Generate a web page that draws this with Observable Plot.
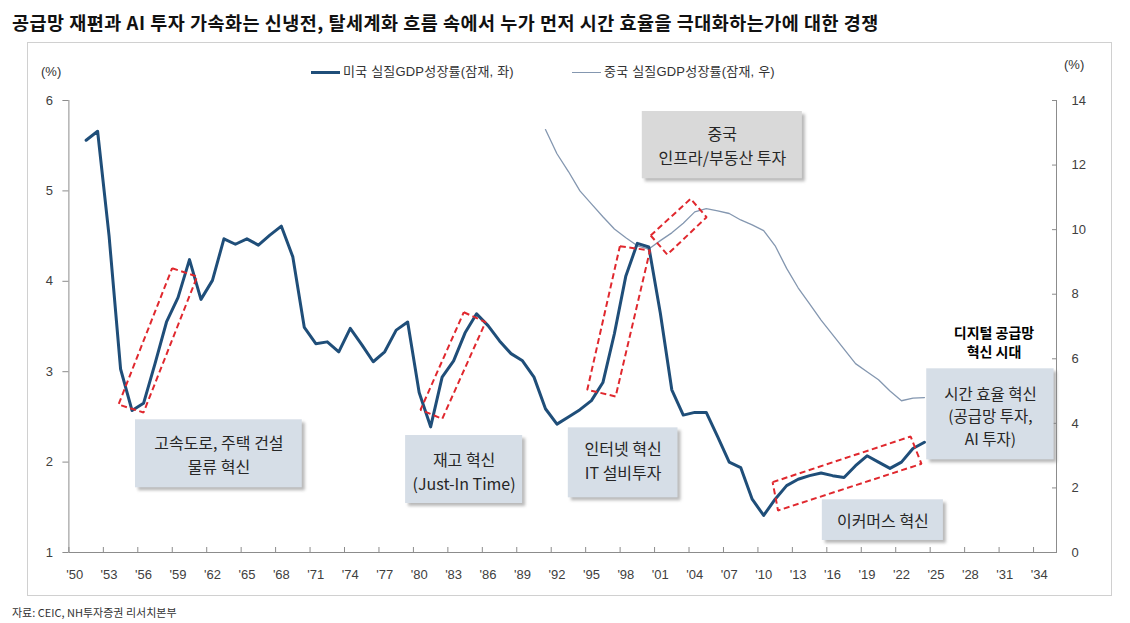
<!DOCTYPE html>
<html><head><meta charset="utf-8">
<script src="https://cdn.jsdelivr.net/npm/d3@7"></script>
<script src="https://cdn.jsdelivr.net/npm/@observablehq/plot@0.6"></script>
<style>
body{margin:0;width:1130px;height:623px;background:#fff;position:relative;overflow:hidden;font-family:"Noto Sans CJK KR",sans-serif;}
#title{position:absolute;left:12px;top:8px;font-size:18.5px;letter-spacing:0.5px;line-height:28px;font-weight:700;color:#111;white-space:nowrap;}
#frame{position:absolute;left:27px;top:42px;width:1085px;height:554px;border:1px solid #d0d0d0;box-sizing:border-box;}
.lbl{position:absolute;font-family:"Liberation Sans","Noto Sans CJK KR",sans-serif;font-size:13px;line-height:18px;color:#333;white-space:nowrap;}
.swatch{position:absolute;}
#chart{position:absolute;left:0;top:85px;}
#src{position:absolute;left:12px;top:604px;font-size:11px;line-height:16px;color:#333;white-space:nowrap;}
</style></head>
<body>
<div id="title">공급망 재편과 AI 투자 가속화는 신냉전, 탈세계화 흐름 속에서 누가 먼저 시간 효율을 극대화하는가에 대한 경쟁</div>
<div id="frame"></div>
<div class="lbl" style="left:41px;top:63px;">(%)</div>
<div class="lbl" style="left:1064px;top:56px;">(%)</div>
<div class="swatch" style="left:311px;top:70.5px;width:29px;height:3px;background:#1f4e79;"></div>
<div class="lbl" style="left:343px;top:63px;letter-spacing:0.2px;">미국 실질GDP성장률(잠재, 좌)</div>
<div class="swatch" style="left:572px;top:71.5px;width:29px;height:1.3px;background:#8497b0;"></div>
<div class="lbl" style="left:604px;top:63px;letter-spacing:0.2px;">중국 실질GDP성장률(잠재, 우)</div>
<div id="chart"></div>
<div id="src">자료: CEIC, NH투자증권 리서치본부</div>
<script>
// ---- data ----
const usYears = d3.range(1951, 2025);
const usGrowth = [5.56,5.66,4.50,3.03,2.57,2.65,3.09,3.55,3.82,4.24,
  3.80,4.01,4.47,4.41,4.47,4.40,4.51,4.61,4.27,3.49,
  3.31,3.33,3.22,3.48,3.30,3.11,3.22,3.46,3.55,2.77,
  2.39,2.94,3.12,3.43,3.64,3.51,3.34,3.20,3.12,2.94,
  2.59,2.42,2.50,2.58,2.68,2.88,3.42,4.06,4.42,4.38,
  3.65,2.80,2.52,2.55,2.55,2.28,2.00,1.94,1.59,1.41,
  1.59,1.74,1.81,1.85,1.88,1.85,1.83,1.96,2.07,2.00,
  1.93,2.00,2.15,2.22];
const cnYears = d3.range(1991, 2025);
const cnGrowth = [13.1,12.35,11.8,11.2,10.8,10.4,10.02,9.75,9.5,9.4,
  9.66,9.9,10.2,10.55,10.65,10.58,10.5,10.3,10.15,9.97,
  9.5,8.8,8.2,7.7,7.2,6.75,6.3,5.85,5.6,5.35,
  5.0,4.7,4.78,4.8];
const leftTicks = [1,2,3,4,5,6];
const rightTicks = [0,2,4,6,8,10,12,14];
const labelYears = d3.range(1950, 2035, 3);
const tickYears = d3.range(1949.5, 2034, 3);

// annotation boxes (year range, left-axis value range)
const noteText = ["고속도로, 주택 건설\n물류 혁신","재고 혁신\n(Just-In Time)","인터넷 혁신\nIT 설비투자","중국\n인프라/부동산 투자","이커머스 혁신","시간 효율 혁신\n(공급망 투자,\nAI 투자)"];
const noteX1 = [1955.30,1978.82,1992.99,1999.43,2015.11,2024.20];
const noteX2 = [1969.82,1989.01,2002.54,2013.37,2025.65,2035.29];
const noteY1 = [1.716,1.542,1.605,5.134,1.133,2.025];
const noteY2 = [2.468,2.294,2.379,5.878,1.583,3.032];
const noteTY = [2.095,1.913,2.03,5.513,1.365,2.521];
const noteFill = ["#d6dee7","#d6dee7","#d6dee7","#d9d9d9","#d6dee7","#d6dee7"];

const eraText = "디지털 공급망\n혁신 시대";
const eraX = 2030.06, eraY = 3.336;

// red dashed highlight boxes: corners (year, left value)
const hiBoxes = [
  [[1958.49,4.145],[1960.67,4.053],[1956.0,2.549],[1953.82,2.637]],
  [[1983.89,3.658],[1985.78,3.548],[1982.01,2.479],[1980.12,2.579]],
  [[1997.48,4.388],[2000.10,4.341],[1997.11,2.726],[1994.64,2.800]],
  [[2000.16,4.507],[2003.64,4.912],[2005.03,4.709],[2001.61,4.296]],
  [[2010.78,1.778],[2022.80,2.283],[2023.74,1.981],[2011.25,1.465]]
];

// ---- derived tables ----
const toL = v => 1 + v * 5 / 14;
const us = usYears.map((y,i)=>({year:y, value:usGrowth[i]}));
const cn = cnYears.map((y,i)=>({year:y, value:toL(cnGrowth[i])}));
const hiRows = hiBoxes.flatMap((b,i)=>[...b, b[0]].map(p=>({id:i, x:p[0], y:p[1]})));
const notes = noteText.map((t,i)=>({t, x1:noteX1[i], x2:noteX2[i], y1:noteY1[i], y2:noteY2[i], xc:(noteX1[i]+noteX2[i])/2, ty:noteTY[i], fill:noteFill[i], three:t.split("\n").length>2}));

const axisColor = "#8c8c8c";
const noteFont = '"Noto Sans CJK KR",sans-serif';
const plot = Plot.plot({
  width: 1130, height: 512,
  marginLeft: 68.4, marginRight: 74, marginTop: 15, marginBottom: 45,
  x: {domain:[1949.5, 2035.5], axis:null},
  y: {domain:[1,6], axis:null},
  style: {fontFamily:'"Liberation Sans","Noto Sans CJK KR",sans-serif', fontSize:"13px", background:"transparent", color:"#404040"},
  marks: [
    Plot.ruleX([1949.5], {stroke:axisColor}),
    Plot.ruleX([2035.5], {stroke:axisColor}),
    Plot.ruleY([1], {stroke:axisColor}),
    Plot.axisY(leftTicks, {anchor:"left", tickSize:6, tickPadding:10, stroke:axisColor, fill:"#404040", tickFormat:d=>String(d)}),
    Plot.axisY(rightTicks.map(toL), {anchor:"right", tickSize:-5, tickPadding:20, stroke:axisColor, fill:"#404040", tickFormat:d=>String(Math.round((d-1)*14/5))}),
    Plot.axisX(tickYears, {anchor:"bottom", tickSize:-5, tickPadding:0, stroke:axisColor, tickFormat:()=>""}),
    Plot.axisX(labelYears, {anchor:"bottom", tickSize:0, tickPadding:17, fill:"#404040", tickFormat:d=>"'"+String(d).slice(2)}),
    Plot.line(cn, {x:"year", y:"value", stroke:"#8497b0", strokeWidth:1.3}),
    Plot.line(us, {x:"year", y:"value", stroke:"#1f4e79", strokeWidth:3}),
    Plot.line(hiRows, {x:"x", y:"y", z:"id", stroke:"#e0282e", strokeWidth:2, strokeDasharray:"6,3.5", curve:"linear", strokeLinejoin:"miter", strokeLinecap:"butt"}),
    Plot.rect(notes, {x1:"x1", x2:"x2", y1:"y1", y2:"y2", fill:"#7f7f7f", fillOpacity:0.55, dx:3, dy:3, imageFilter:"blur(1.5px)"}),
    Plot.rect(notes, {x1:"x1", x2:"x2", y1:"y1", y2:"y2", fill:"fill"}),
    Plot.text(notes.filter(d=>!d.three), {x:"xc", y:"ty", text:"t", fill:"#262626", fontSize:16, lineHeight:1.5, fontFamily:noteFont}),
    Plot.text(notes.filter(d=>d.three), {x:"xc", y:"ty", text:"t", fill:"#262626", fontSize:15.5, lineHeight:1.45, fontFamily:noteFont}),
    Plot.text([eraText], {x:()=>eraX, y:()=>eraY, text:d=>d, fill:"#000", fontSize:14, fontWeight:"bold", lineHeight:1.35, fontFamily:noteFont})
  ]
});
document.getElementById("chart").appendChild(plot);
</script>
</body></html>
